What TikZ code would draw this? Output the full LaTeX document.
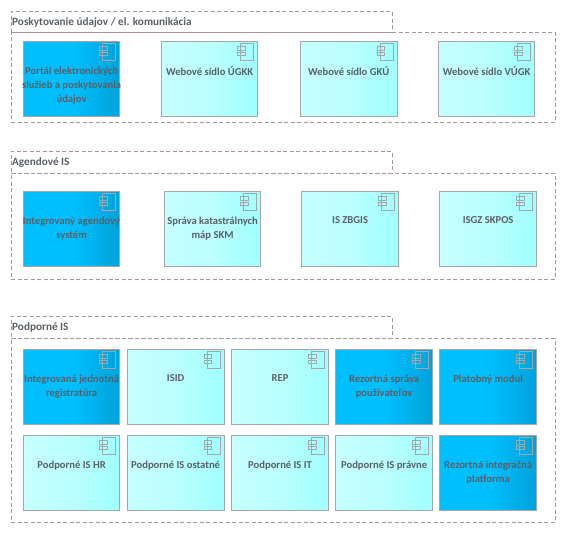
\documentclass[tikz,border=0pt]{standalone}
\usepackage{fontspec}
\setmainfont{Carlito}
\usetikzlibrary{positioning}
\definecolor{framegray}{HTML}{A8949C}
\definecolor{edgegray}{HTML}{A6A6A6}
\definecolor{textgray}{HTML}{5A5F66}
\definecolor{deepblue}{HTML}{00BFFF}
\definecolor{paleblue}{HTML}{C6FFFF}
\definecolor{paleend}{HTML}{A0FFFF}
\tikzset{
    groupframe/.style={draw=framegray, dash pattern=on 4pt off 2.5pt, line width=0.9pt, anchor=north west, inner sep=0pt},
    grouptitle/.style={anchor=west, inner sep=0pt, text=textgray, font=\fontsize{11.2pt}{14pt}\selectfont\bfseries},
    compbox/.style={draw=edgegray, line width=1.2pt, anchor=north west, inner sep=0pt, minimum height=75pt},
    bluebox/.style={compbox, left color=deepblue, right color=deepblue!85!black, middle color=deepblue},
    lightbox/.style={compbox, left color=paleblue, right color=paleend, middle color=paleblue!70!paleend},
    boxtext/.style={anchor=north, inner sep=0pt, align=center, text=textgray, font=\fontsize{10.6pt}{14.3pt}\selectfont\bfseries},
    pics/compicon/.style={code={
        \draw[edgegray, line width=0.9pt] (-17.3,2.3) rectangle (-4.7,19.7);
        \draw[edgegray, line width=0.9pt] (-20.3,5.7) rectangle (-13,9.7);
        \draw[edgegray, line width=0.9pt] (-20.3,11) rectangle (-13,14.7);
    }}
}
\begin{document}
\begin{tikzpicture}[x=1pt, y=-1pt]
    \useasboundingbox (0,0) rectangle (566,543);

    % first group
    \node[groupframe, minimum width=380.5pt, minimum height=21pt] (tabA) at (11,11) {};
    \node[groupframe, minimum width=544pt, minimum height=90pt] (groupA) at (11,32) {};
    \node[grouptitle] (titleA) at (12,22.5) {Poskytovanie údajov / el. komunikácia};

    \node[bluebox, minimum width=96pt] (portal) at (23,41) {};
    \node[boxtext, below=25.5pt of portal.north] (portaltext) {Portál elektronických\\služieb a poskytovania\\údajov};
    \pic at (portal.north east) {compicon};
    \node[lightbox, minimum width=96pt] (ugkk) at (161,41) {};
    \node[boxtext, below=25.5pt of ugkk.north] (ugkktext) {Webové sídlo ÚGKK};
    \pic at (ugkk.north east) {compicon};
    \node[lightbox, minimum width=97pt] (gku) at (299.5,41) {};
    \node[boxtext, below=25.5pt of gku.north] (gkutext) {Webové sídlo GKÚ};
    \pic at (gku.north east) {compicon};
    \node[lightbox, minimum width=96pt] (vugk) at (438,41) {};
    \node[boxtext, below=25.5pt of vugk.north] (vugktext) {Webové sídlo VÚGK};
    \pic at (vugk.north east) {compicon};

    % second group
    \node[groupframe, minimum width=380.5pt, minimum height=22pt] (tabB) at (11,151) {};
    \node[groupframe, minimum width=544pt, minimum height=106pt] (groupB) at (11,173) {};
    \node[grouptitle] (titleB) at (12,162.5) {Agendové IS};

    \node[bluebox, minimum width=96pt] (agenda) at (23,191) {};
    \node[boxtext, below=25.5pt of agenda.north] (agendatext) {Integrovaný agendový\\systém};
    \pic at (agenda.north east) {compicon};
    \node[lightbox, minimum width=96pt] (skm) at (164,191) {};
    \node[boxtext, below=25.5pt of skm.north] (skmtext) {Správa katastrálnych\\máp SKM};
    \pic at (skm.north east) {compicon};
    \node[lightbox, minimum width=97pt] (zbgis) at (301,191) {};
    \node[boxtext, below=25.5pt of zbgis.north] (zbgistext) {IS ZBGIS};
    \pic at (zbgis.north east) {compicon};
    \node[lightbox, minimum width=97pt] (skpos) at (439,191) {};
    \node[boxtext, below=25.5pt of skpos.north] (skpostext) {ISGZ SKPOS};
    \pic at (skpos.north east) {compicon};

    % third group
    \node[groupframe, minimum width=380.5pt, minimum height=22pt] (tabC) at (11,316) {};
    \node[groupframe, minimum width=544pt, minimum height=184pt] (groupC) at (11,338) {};
    \node[grouptitle] (titleC) at (12,327.5) {Podporné IS};

    \node[bluebox, minimum width=96pt] (registry) at (23,349) {};
    \node[boxtext, below=25.5pt of registry.north] (registrytext) {Integrovaná jednotná\\registratúra};
    \pic at (registry.north east) {compicon};
    \node[lightbox, minimum width=97pt] (isid) at (126.5,349) {};
    \node[boxtext, below=25.5pt of isid.north] (isidtext) {ISID};
    \pic at (isid.north east) {compicon};
    \node[lightbox, minimum width=97pt] (rep) at (231,349) {};
    \node[boxtext, below=25.5pt of rep.north] (reptext) {REP};
    \pic at (rep.north east) {compicon};
    \node[bluebox, minimum width=97pt] (users) at (335,349) {};
    \node[boxtext, below=25.5pt of users.north] (userstext) {Rezortná správa\\používateľov};
    \pic at (users.north east) {compicon};
    \node[bluebox, minimum width=97pt] (payment) at (439,349) {};
    \node[boxtext, below=25.5pt of payment.north] (paymenttext) {Platobný modul};
    \pic at (payment.north east) {compicon};

    \node[lightbox, minimum width=96pt] (hr) at (23,435) {};
    \node[boxtext, below=25.5pt of hr.north] (hrtext) {Podporné IS HR};
    \pic at (hr.north east) {compicon};
    \node[lightbox, minimum width=97pt] (other) at (126.5,435) {};
    \node[boxtext, below=25.5pt of other.north] (othertext) {Podporné IS ostatné};
    \pic at (other.north east) {compicon};
    \node[lightbox, minimum width=97pt] (it) at (231,435) {};
    \node[boxtext, below=25.5pt of it.north] (ittext) {Podporné IS IT};
    \pic at (it.north east) {compicon};
    \node[lightbox, minimum width=97pt] (legal) at (335,435) {};
    \node[boxtext, below=25.5pt of legal.north] (legaltext) {Podporné IS právne};
    \pic at (legal.north east) {compicon};
    \node[bluebox, minimum width=97pt] (integration) at (439,435) {};
    \node[boxtext, below=25.5pt of integration.north] (integrationtext) {Rezortná integračná\\platforma};
    \pic at (integration.north east) {compicon};
\end{tikzpicture}
\end{document}
